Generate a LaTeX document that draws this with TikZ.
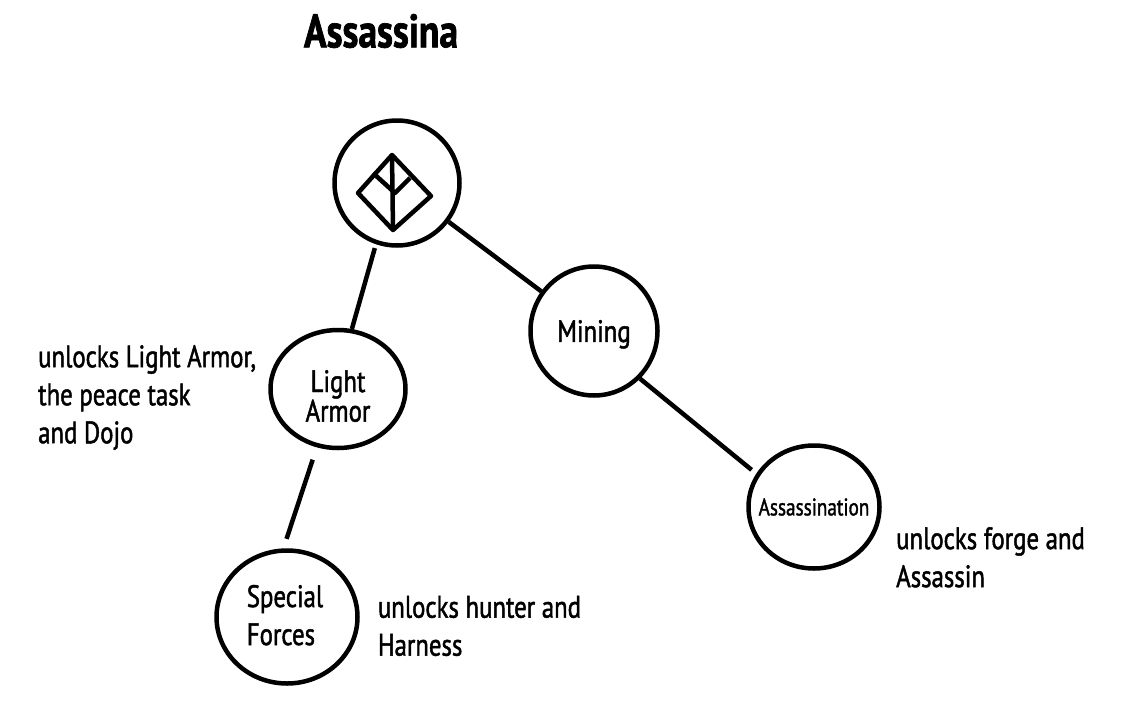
\documentclass[tikz,border=0pt]{standalone}
\usepackage{fontspec}
\setmainfont[FakeStretch=0.8,FakeBold=1.5]{PT Sans}
\usetikzlibrary{positioning,shapes.geometric}

\begin{document}
\begin{tikzpicture}[
      x=1pt,y=-1pt,
      skill/.style={draw,ellipse,line width=4.5pt,inner sep=0pt,
        align=center,font=\fontsize{31}{27}\selectfont},
      note/.style={align=left,inner sep=0pt,
        font=\fontsize{31}{38}\selectfont},
      edge/.style={line width=4.5pt},
      glyph/.style={line width=4.5pt,line join=round}
    ]
      \useasboundingbox (0,0) rectangle (1122,720);

      \node[inner sep=0pt,font=\fontsize{47}{47}\selectfont\bfseries]
        (title) at (381,31) {Assassina};

      % skill circles
      \node[skill,minimum width=125pt,minimum height=125pt](root) at (397,183){};
      \node[skill,minimum width=127pt,minimum height=129pt,inner sep=-6pt,
        text depth=0pt](mining) at (594,331){Mining};
      \node[skill,minimum width=135pt,minimum height=118pt,
        inner sep=-8pt](armor) at (338,389){\rule{0pt}{36pt}Light\\Armor};
      \node[skill,minimum width=141pt,minimum height=133pt,inner sep=-6pt,
        align=left,font=\fontsize{31}{38}\selectfont](forces) at (287,617)
        {Special\hspace*{4pt}\\Forces\rule[-4pt]{0pt}{4pt}};
      \node[skill,minimum width=131pt,minimum height=123pt,inner sep=-11pt,
        font=\fontsize{24}{24}\selectfont](assassination) at (814,507){Assassination};

      % what each one unlocks
      \node[note,anchor=north west](armornote) at (38,345)
        {unlocks Light Armor,\\the peace task\\and Dojo};
      \node[note,anchor=west,right=18pt of forces,yshift=-9pt](forcesnote)
        {unlocks hunter and\\Harness};
      \node[note,anchor=north west](assassinnote) at (896,527)
        {unlocks forge and\\Assassin};

      % connectors
      \draw[edge](root)--(mining);
      \draw[edge,shorten <=4pt](root.251)--(armor.77);
      \draw[edge,shorten <=13pt,shorten >=10pt](armor.250)--(forces.93);
      \draw[edge,shorten >=6pt](mining.314)--(assassination.150);

      % icon
      \coordinate (itop) at (392,155);
      \coordinate (ileft) at (358,193);
      \coordinate (ibottom) at (393,230);
      \coordinate (iright) at (431,196);
      \coordinate (imid) at (395,193);
      \draw[glyph](itop)--(ileft)--(ibottom)--(iright)--cycle;
      \draw[glyph](itop)--(ibottom);
      \draw[glyph](373,173)--(imid)--(410,178);
    \end{tikzpicture}
\end{document}
